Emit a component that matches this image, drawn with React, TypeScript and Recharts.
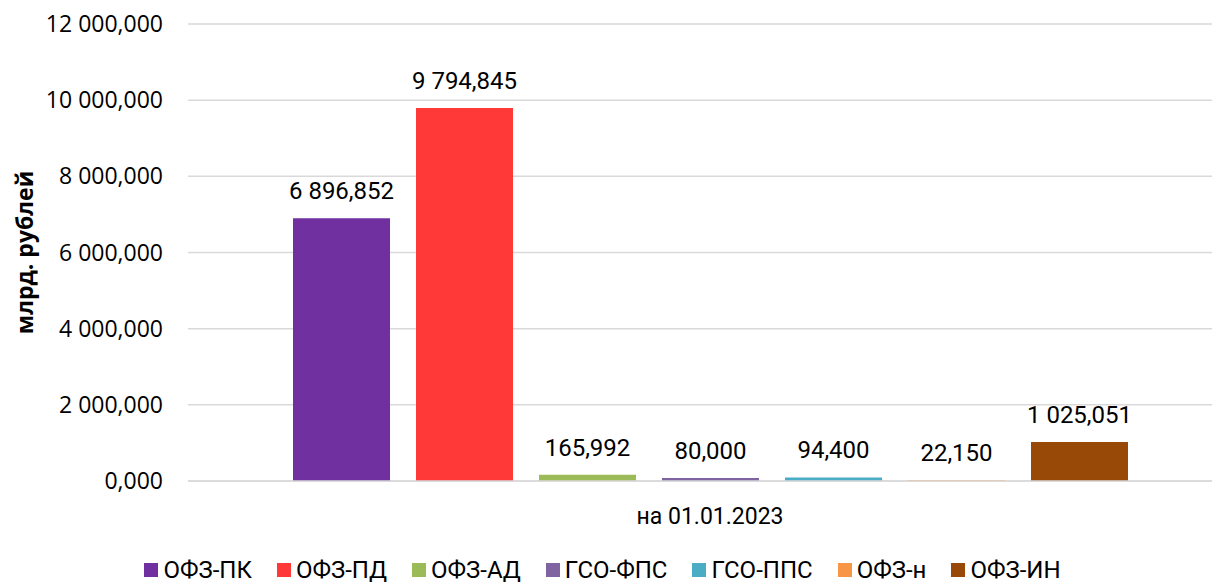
import { BarChart, Bar, XAxis, YAxis, CartesianGrid, Legend, LabelList } from 'recharts';

const period = 'на 01.01.2023';

const seriesNames = ['ОФЗ-ПК', 'ОФЗ-ПД', 'ОФЗ-АД', 'ГСО-ФПС', 'ГСО-ППС', 'ОФЗ-н', 'ОФЗ-ИН'];
const seriesValues = [6896.852, 9794.845, 165.992, 80.0, 94.4, 22.15, 1025.051];
const seriesColors = ['#7030A0', '#FF3838', '#9BBB59', '#8064A2', '#4BACC6', '#F79646', '#984807'];

const yTicks = [0, 2000, 4000, 6000, 8000, 10000, 12000];

const row: { [key: string]: number | string } = { period };
seriesNames.forEach((name, i) => {
  row[name] = seriesValues[i];
});
const data = [row];

// 12 000,000 style
function formatRu(v: number) {
  const [int, dec] = Number(v).toFixed(3).split('.');
  return int.replace(/\B(?=(\d{3})+(?!\d))/g, ' ') + ',' + dec;
}

function LegendContent() {
  return (
    <div
      style={{
        display: 'flex',
        justifyContent: 'center',
        fontFamily: 'Roboto, sans-serif',
        fontSize: 24,
        lineHeight: '28px',
        color: '#000',
        paddingTop: 25,
        marginLeft: -10,
      }}
    >
      {seriesNames.map((name, i) => (
        <div key={name} style={{ display: 'flex', alignItems: 'center', marginRight: 25 }}>
          <span style={{ width: 14, height: 14, background: seriesColors[i], marginRight: 5, display: 'inline-block' }} />
          <span>{name}</span>
        </div>
      ))}
    </div>
  );
}

export default function App() {
  return (
    <div style={{ width: 1212, height: 575, overflow: 'hidden' }}>
      <BarChart
        width={1240}
        height={575}
        data={data}
        margin={{ top: 16, right: 16, left: 0, bottom: 0 }}
        barSize={97}
        barGap={26}
      >
        <CartesianGrid vertical={false} stroke="#d9d9d9" strokeWidth={1.5} />
        <XAxis
          dataKey="period"
          height={50}
          axisLine={{ stroke: '#d9d9d9', strokeWidth: 1.5 }}
          tickLine={false}
          tickMargin={21}
          tick={{ fontFamily: 'Roboto, sans-serif', fontSize: 23, fill: '#000' }}
        />
        <YAxis
          width={180}
          domain={[0, 12000]}
          ticks={yTicks}
          axisLine={false}
          tickLine={false}
          tickSize={0}
          tickMargin={25}
          tickFormatter={formatRu}
          tick={{ fontFamily: 'Open Sans, sans-serif', fontSize: 23, fill: '#000' }}
          label={{
            value: 'млрд. рублей',
            angle: -90,
            position: 'insideLeft',
            offset: 17,
            style: { textAnchor: 'middle', fontFamily: 'Open Sans, sans-serif', fontWeight: 700, fontSize: 23, fill: '#000' },
          }}
        />
        <Legend verticalAlign="bottom" height={52} content={<LegendContent />} />
        {seriesNames.map((name, i) => (
          <Bar key={name} dataKey={name} fill={seriesColors[i]} isAnimationActive={false}>
            <LabelList
              dataKey={name}
              position="top"
              offset={19}
              formatter={(v: any) => formatRu(Number(v))}
              style={{ fontFamily: 'Roboto, sans-serif', fontSize: 24, fill: '#000' }}
            />
          </Bar>
        ))}
      </BarChart>
    </div>
  );
}
